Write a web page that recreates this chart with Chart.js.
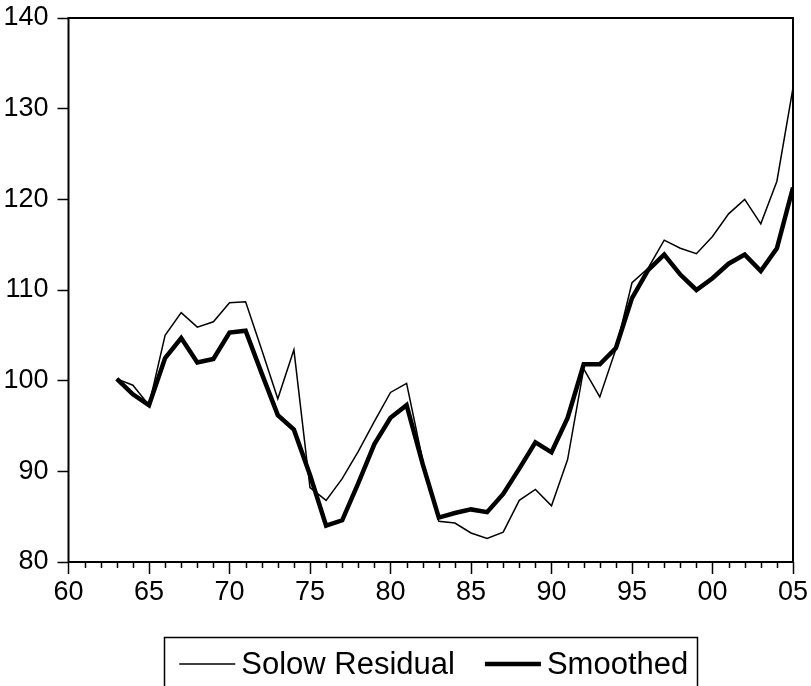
<!DOCTYPE html>
<html>
<head>
<meta charset="utf-8">
<script src="https://cdn.jsdelivr.net/npm/chart.js@4.4.1/dist/chart.umd.min.js"></script>
<style>
  html, body { margin: 0; padding: 0; background: #fff; }
  #wrap { width: 811px; height: 686px; }
</style>
</head>
<body>
<div id="wrap"><canvas id="chart" width="811" height="686"></canvas></div>
<script>
const years = [1963, 1964, 1965, 1966, 1967, 1968, 1969, 1970, 1971, 1972,
  1973, 1974, 1975, 1976, 1977, 1978, 1979, 1980, 1981, 1982,
  1983, 1984, 1985, 1986, 1987, 1988, 1989, 1990, 1991, 1992,
  1993, 1994, 1995, 1996, 1997, 1998, 1999, 2000, 2001, 2002,
  2003, 2004, 2005];

const solowResidual = [100.2, 99.5, 97.3, 105.0, 107.5, 105.9, 106.5, 108.6, 108.7, 103.4,
  98.0, 103.4, 88.2, 86.8, 89.2, 92.2, 95.5, 98.7, 99.7, 91.2,
  84.5, 84.3, 83.2, 82.6, 83.3, 86.8, 88.0, 86.2, 91.3, 101.3,
  98.2, 103.5, 110.8, 112.4, 115.5, 114.6, 114.0, 115.9, 118.4, 120.0,
  117.3, 122.0, 132.3];

const smoothed = [100.2, 98.5, 97.3, 102.5, 104.7, 102.0, 102.4, 105.3, 105.5, 100.8,
  96.2, 94.6, 89.6, 84.0, 84.6, 88.7, 93.0, 95.9, 97.3, 90.8,
  84.9, 85.4, 85.8, 85.5, 87.5, 90.3, 93.2, 92.1, 95.9, 101.8,
  101.8, 103.6, 109.1, 112.2, 113.9, 111.7, 110.0, 111.3, 112.9, 113.9,
  112.1, 114.6, 121.3];

const majorYears = [1960, 1965, 1970, 1975, 1980, 1985, 1990, 1995, 2000, 2005];
const xTickLabels = ['60', '65', '70', '75', '80', '85', '90', '95', '00', '05'];
const yTicks = [80, 90, 100, 110, 120, 130, 140];

const seriesLabels = ['Solow Residual', 'Smoothed'];

const fontFamily = "'Liberation Sans', Arial, sans-serif";

// box round the plot, minor year ticks and the framed legend
const framePlugin = {
  id: 'frame',
  afterDraw(chart) {
    const { ctx, chartArea: a, scales } = chart;
    const x = scales.x;
    ctx.save();
    ctx.strokeStyle = '#000';
    ctx.lineWidth = 2;
    ctx.strokeRect(a.left, a.top, a.right - a.left, a.bottom - a.top);

    ctx.lineWidth = 1.5;
    for (let yr = majorYears[0]; yr <= majorYears[majorYears.length - 1]; yr++) {
      if (majorYears.includes(yr)) continue;
      const px = Math.round(x.getPixelForValue(yr)) + 0.5;
      ctx.beginPath();
      ctx.moveTo(px, a.bottom);
      ctx.lineTo(px, a.bottom + 6);
      ctx.stroke();
    }

    // legend
    ctx.font = "31px " + fontFamily;
    ctx.textBaseline = 'middle';
    ctx.fillStyle = '#000';
    const sample = 56, gap = 6, itemGap = 30, padL = 15, padR = 9;
    const widths = chart.data.datasets.map(ds => ctx.measureText(ds.label).width);
    let total = padL + padR;
    widths.forEach((w, i) => { total += sample + gap + w + (i ? itemGap : 0); });
    const cx = (a.left + a.right) / 2;
    const top = a.bottom + 75;
    const left = cx - total / 2;
    ctx.lineWidth = 1.5;
    ctx.strokeRect(Math.round(left) + 0.5, top + 0.5, Math.round(total), 80);
    const midY = top + 27;
    let px = left + padL;
    chart.data.datasets.forEach((ds, i) => {
      ctx.lineWidth = ds.borderWidth;
      ctx.beginPath();
      ctx.moveTo(px, midY);
      ctx.lineTo(px + sample, midY);
      ctx.stroke();
      px += sample + gap;
      ctx.fillText(ds.label, px, midY + 1);
      px += widths[i] + itemGap;
    });
    ctx.restore();
  }
};

const ctx = document.getElementById('chart').getContext('2d');
new Chart(ctx, {
  type: 'line',
  data: {
    datasets: [
      {
        label: seriesLabels[0],
        data: years.map((yr, i) => ({ x: yr, y: solowResidual[i] })),
        borderColor: '#000',
        borderWidth: 1.5,
        pointRadius: 0,
        tension: 0,
      },
      {
        label: seriesLabels[1],
        data: years.map((yr, i) => ({ x: yr, y: smoothed[i] })),
        borderColor: '#000',
        borderWidth: 4.5,
        pointRadius: 0,
        tension: 0,
      },
    ],
  },
  options: {
    responsive: false,
    animation: false,
    devicePixelRatio: 1,
    layout: { padding: { top: 18, right: 18, left: 0, bottom: 0 } },
    plugins: {
      legend: { display: false },
      tooltip: { enabled: false },
    },
    scales: {
      x: {
        type: 'linear',
        min: 1960,
        max: 2005,
        border: { display: false },
        grid: {
          drawOnChartArea: false,
          drawTicks: true,
          tickLength: 12,
          tickWidth: 1.5,
          tickColor: '#000',
        },
        afterBuildTicks(scale) {
          scale.ticks = majorYears.map(v => ({ value: v }));
        },
        afterFit(scale) {
          scale.height = 124;
          scale.paddingLeft = 0;
          scale.paddingRight = 0;
        },
        ticks: {
          autoSkip: false,
          maxRotation: 0,
          padding: 2,
          color: '#000',
          font: { family: fontFamily, size: 27 },
          callback: (v) => xTickLabels[majorYears.indexOf(v)],
        },
      },
      y: {
        min: 80,
        max: 140,
        border: { display: false },
        grid: {
          drawOnChartArea: false,
          drawTicks: true,
          tickLength: 11,
          tickWidth: 1.5,
          tickColor: '#000',
        },
        afterBuildTicks(scale) {
          scale.ticks = yTicks.map(v => ({ value: v }));
        },
        afterFit(scale) {
          scale.width = 68.5;
          scale.paddingTop = 0;
          scale.paddingBottom = 0;
        },
        ticks: {
          padding: 9,
          color: '#000',
          font: { family: fontFamily, size: 27 },
        },
      },
    },
  },
  plugins: [framePlugin],
});
</script>
</body>
</html>
